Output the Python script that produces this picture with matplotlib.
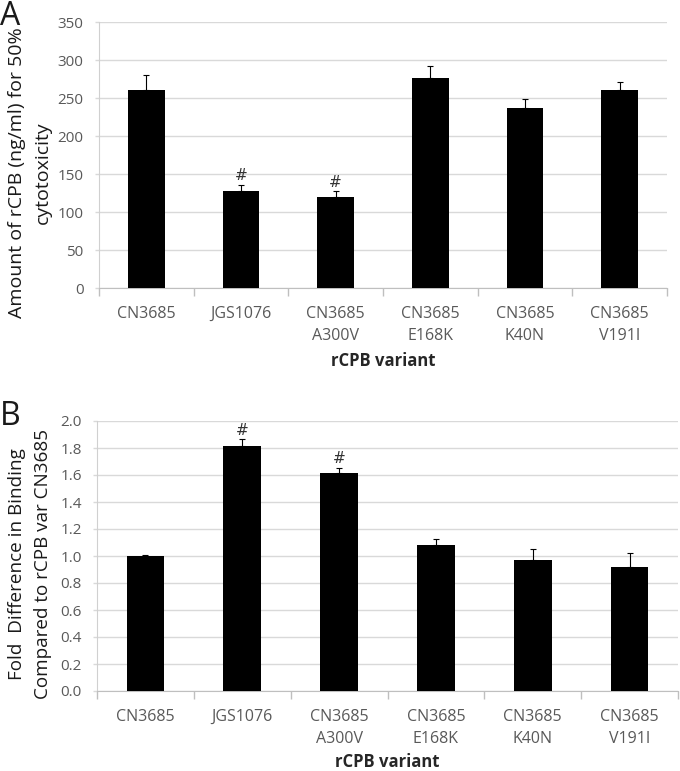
import matplotlib
matplotlib.use("Agg")
import matplotlib.pyplot as plt
import numpy as np

categories = ["CN3685", "JGS1076", "CN3685\nA300V", "CN3685\nE168K", "CN3685\nK40N", "CN3685\nV191I"]
cyto_values = [261, 128, 120, 276.5, 237.5, 261]
cyto_errors = [19, 7.5, 7, 16, 11, 10]
binding_values = [1.0, 1.815, 1.615, 1.083, 0.974, 0.92]
binding_errors = [0.005, 0.05, 0.04, 0.04, 0.077, 0.10]
significant = [False, True, True, False, False, False]

plt.rcParams['font.family'] = ['Open Sans', 'DejaVu Sans']

W, H = 680, 771
fig = plt.figure(figsize=(W / 100, H / 100), dpi=100)

GRID = "#d9d9d9"
TXT = "#595959"


def make_panel(top_px, bot_px, left_px, right_px, values, errors, ymax, ystep, fmt,
               ylabel, ylabel_size, label_center_px, hash_offset, letter, letter_top_px, xlabelpad):
    ax = fig.add_axes([left_px / W, 1 - bot_px / H, (right_px - left_px) / W, (bot_px - top_px) / H])
    x = np.arange(len(categories))
    ax.bar(x, values, width=0.39, color="black", zorder=3)
    ax.errorbar(x, values, yerr=[np.zeros(len(errors)), errors], fmt="none",
                ecolor="black", elinewidth=0.8, capsize=2.5, capthick=0.8, zorder=4)
    for xi, v, e, s in zip(x, values, errors, significant):
        if s:
            ax.text(xi, v + e + hash_offset, "#", ha="center", va="bottom",
                    fontsize=11, color="#333333", family="DejaVu Sans")
    ax.set_xlim(-0.5, len(categories) - 0.5)
    ax.set_ylim(0, ymax)
    yt = np.arange(0, ymax + ystep / 2, ystep)
    ax.set_yticks(yt)
    ax.set_yticklabels([fmt.format(t) for t in yt], color=TXT, fontsize=11)
    ax.yaxis.grid(True, color=GRID, linewidth=1.0, zorder=0)
    ax.set_axisbelow(True)
    ax.tick_params(axis="y", length=3, color=GRID, width=1.0, pad=8)
    ax.set_xticks(x)
    ax.set_xticklabels(categories, color=TXT, fontsize=11.5, linespacing=1.5)
    ax.set_xticks(np.arange(-0.5, len(categories)), minor=True)
    ax.tick_params(axis="x", which="major", length=0, pad=13)
    ax.tick_params(axis="x", which="minor", length=6, color="#bfbfbf", width=1)
    for s in ["top", "right"]:
        ax.spines[s].set_visible(False)
    ax.spines["left"].set_color("#d0d0d0")
    ax.spines["bottom"].set_color("#bfbfbf")
    ax.set_xlabel("rCPB variant", fontsize=12, fontweight="bold", color="#262626", labelpad=xlabelpad)
    fig.text(30 / W, 1 - label_center_px / H, ylabel, rotation=90, ha="center", va="center",
             fontsize=ylabel_size, color="#1a1a1a", linespacing=1.5, multialignment="center")
    fig.text(0.0, 1 - letter_top_px / H, letter, fontsize=23, ha="left", va="top", color="#1a1a1a")
    return ax


make_panel(22, 288, 99, 667, cyto_values, cyto_errors, 350, 50, "{:.0f}",
           "Amount of rCPB (ng/ml) for 50%\ncytotoxicity", 14.0, 173, 2, "A", 0, 5.5)

make_panel(421, 691, 97, 678, binding_values, binding_errors, 2.0, 0.2, "{:.1f}",
           "Fold  Difference in Binding\nCompared to rCPB var CN3685", 13.6, 564, 0.01, "B", 400, 4)

fig.savefig("out.png", dpi=100)
